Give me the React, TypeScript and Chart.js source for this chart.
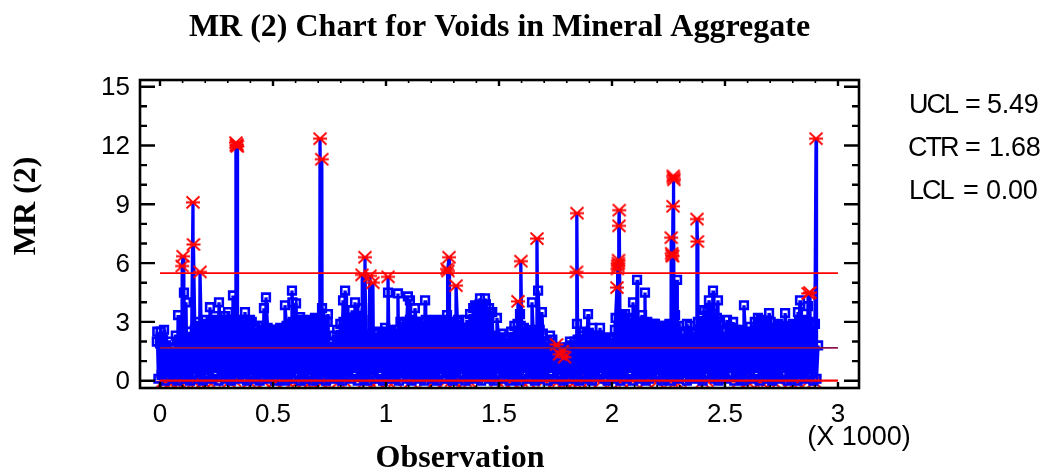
import React, { useEffect, useRef } from "react";
import { Chart, registerables } from "chart.js";

Chart.register(...registerables);

const chartTitle = "MR (2) Chart for Voids in Mineral Aggregate";
const xAxisTitle = "Observation";
const yAxisTitle = "MR (2)";
const xMultiplier = "(X 1000)";
const statNames = ["UCL", "CTR", "LCL"];
const statValues = ["5.49", "1.68", "0.00"];
const ucl = 5.49;
const ctr = 1.68;
const lcl = 0;

const yTickValues = [0, 3, 6, 9, 12, 15];
const yMinorValues = [1, 2, 4, 5, 7, 8, 10, 11, 13, 14];
const xTickValues = [0, 500, 1000, 1500, 2000, 2500, 3000];
const xTickLabels = ["0", "0.5", "1", "1.5", "2", "2.5", "3"];
const xMinorValues = [100, 200, 300, 400, 600, 700, 800, 900, 1100, 1200, 1300, 1400, 1600, 1700, 1800, 1900, 2100, 2200, 2300, 2400, 2600, 2700, 2800, 2900];

// Bulk of the moving-range series: upper and lower swing per block of 14 observations
const massHigh = [
  2.0, 1.9, 2.1, 1.8, 2.0, 1.7, 2.3, 2.1, 2.4, 2.0, 2.5, 2.2, 2.6, 3.0, 2.8, 3.1, 2.9, 3.0, 3.1, 2.8, 3.0, 3.1,
  3.0, 2.9, 3.1, 3.0, 2.8, 3.1, 3.0, 2.9, 3.0, 2.7, 2.8, 2.6, 2.5, 2.7, 2.6, 2.5, 2.6, 2.7, 2.6, 2.8, 2.9, 3.0,
  2.9, 3.0, 3.1, 2.9, 3.0, 3.1, 3.0, 3.1, 2.9, 3.1, 3.0, 2.0, 2.3, 2.6, 2.9, 3.0, 3.2, 3.1, 3.2, 3.0, 3.2, 3.1,
  2.2, 2.3, 2.2, 2.4, 2.5, 2.3, 2.4, 2.5, 2.6, 2.4, 2.6, 3.0, 2.9, 3.0, 3.1, 2.9, 3.0, 2.8, 3.0, 3.1, 2.9, 3.0,
  3.0, 2.9, 3.0, 3.1, 2.9, 3.0, 2.9, 3.0, 2.5, 2.6, 2.4, 3.4, 3.7, 3.8, 3.9, 3.8, 3.9, 3.7, 3.5, 2.3, 2.2, 2.4,
  2.1, 2.2, 2.5, 2.8, 2.9, 2.8, 2.7, 2.5, 2.6, 2.4, 2.5, 2.6, 2.4, 2.0, 1.9, 2.1, 1.7, 1.6, 1.7, 1.5, 1.7, 1.8,
  2.0, 2.1, 2.3, 2.5, 2.4, 2.1, 2.2, 2.0, 2.1, 2.2, 2.0, 2.1, 2.2, 3.2, 3.1, 3.3, 3.2, 3.1, 3.2, 2.9, 2.8, 3.0,
  2.9, 3.0, 2.8, 2.9, 2.7, 2.8, 2.8, 2.7, 2.9, 2.8, 2.7, 2.8, 2.4, 2.5, 2.3, 2.4, 2.5, 3.0, 3.3, 3.6, 3.5, 3.6,
  3.4, 3.2, 3.0, 2.5, 2.6, 2.5, 2.7, 2.6, 2.5, 2.6, 2.4, 2.5, 2.4, 3.0, 2.9, 3.1, 3.0, 2.9, 3.0, 2.7, 2.6, 2.8,
  2.7, 2.6, 2.8, 2.7, 2.8, 3.0, 3.1, 2.9, 3.0, 2.8, 2.9,
];
const massLow = [
  0.1, 0.3, 0.0, 0.2, 0.4, 0.1, 0.0, 0.2, 0.3, 0.1, 0.0, 0.4, 0.2, 0.1, 0.0, 0.3, 0.2, 0.1, 0.4, 0.0, 0.2, 0.1,
  0.3, 0.0, 0.1, 0.2, 0.4, 0.1, 0.0, 0.3, 0.2, 0.1, 0.0, 0.2, 0.4, 0.1, 0.3, 0.0, 0.2, 0.1, 0.0, 0.3, 0.1, 0.2,
  0.4, 0.0, 0.1, 0.2, 0.3, 0.0, 0.1, 0.4, 0.2, 0.0, 0.1, 0.3, 0.2, 0.1, 0.0, 0.2, 0.3, 0.1, 0.4, 0.0, 0.2, 0.1,
  0.0, 0.3, 0.2, 0.1, 0.4, 0.0, 0.1, 0.2, 0.3, 0.1, 0.0, 0.2, 0.4, 0.1, 0.0, 0.3, 0.2, 0.1, 0.0, 0.2, 0.3, 0.1,
  0.0, 0.4, 0.2, 0.1, 0.3, 0.0, 0.1, 0.2, 0.4, 0.0, 0.1, 0.3, 0.2, 0.1, 0.0, 0.2, 0.3, 0.1, 0.0, 0.4, 0.2, 0.1,
  0.3, 0.0, 0.2, 0.1, 0.0, 0.3, 0.4, 0.1, 0.2, 0.0, 0.1, 0.3, 0.2, 0.0, 0.4, 0.1, 0.2, 0.3, 0.0, 0.1, 0.2, 0.4,
  0.1, 0.0, 0.3, 0.2, 0.1, 0.0, 0.2, 0.3, 0.4, 0.1, 0.0, 0.2, 0.1, 0.3, 0.0, 0.2, 0.1, 0.4, 0.0, 0.3, 0.1, 0.2,
  0.0, 0.1, 0.4, 0.2, 0.3, 0.0, 0.1, 0.2, 0.0, 0.3, 0.1, 0.4, 0.2, 0.0, 0.1, 0.3, 0.2, 0.1, 0.0, 0.4, 0.2, 0.3,
  0.1, 0.0, 0.2, 0.1, 0.3, 0.4, 0.0, 0.2, 0.1, 0.0, 0.3, 0.2, 0.1, 0.4, 0.0, 0.2, 0.3, 0.1, 0.0, 0.2, 0.1, 0.3,
  0.4, 0.0, 0.1, 0.2, 0.0, 0.3, 0.1, 0.2, 0.4, 0.0, 0.1,
];

// Isolated in-control observations, marked with squares above the bulk
const peakObs = [
  -12, 3, 18, 80, 106, 115, 221, 243, 261, 288, 301, 323, 376, 398, 434, 460, 469, 509, 553, 584, 586, 602, 620, 686,
  717, 743, 783, 810, 819, 850, 863, 894, 996, 1009, 1053, 1097, 1106, 1128, 1173, 1217, 1270, 1319, 1350, 1358, 1394,
  1416, 1438, 1460, 1491, 1527, 1593, 1646, 1673, 1690, 1726, 1814, 1845, 1894, 1912, 1947, 1991, 2013, 2058, 2093,
  2111, 2133, 2146, 2190, 2226, 2279, 2288, 2332, 2345, 2403, 2429, 2447, 2469, 2509, 2536, 2584, 2611, 2646, 2695,
  2735, 2766, 2801, 2823, 2832, 2867, 2912,
];
const peakVals = [
  2.5, 2.5, 2.6, 3.35, 4.5, 4.0, 3.75, 3.3, 4.0, 3.3, 3.5, 4.35, 3.5, 3.1, 2.8, 3.7, 4.25, 2.6, 3.85, 4.6, 4.0, 3.95, 3.25, 3.2,
  3.7, 3.4, 2.1, 4.1, 4.6, 3.6, 4.0, 3.7, 2.7, 4.5, 4.45, 4.3, 4.1, 3.7, 4.1, 3.1, 3.35, 3.1, 2.6, 3.1, 3.85,
  4.2, 4.2, 3.5, 3.2, 2.2, 3.4, 4.0, 4.6, 3.5, 2.3, 2.0, 2.9, 3.4, 2.7, 2.7, 2.2, 2.6, 3.4, 4.0,
  5.15, 3.35, 4.5, 2.9, 2.6, 3.35, 5.15, 2.9, 2.8, 2.7, 4.1, 4.6, 4.1, 3.1, 3.0, 3.85, 2.75, 3.2, 3.45,
  2.9, 3.45, 2.9, 3.5, 4.1, 3.8, 1.8,
];

// Out-of-control observations, marked with red stars
const alarmObs = [
  98, 102, 146, 148, 177, 336, 338, 340, 342, 708, 716, 894, 907, 929, 942, 1009, 1270, 1274, 1279, 1310, 1584, 1597,
  1668, 1843, 1845, 2022, 2024, 2026, 2028, 2029, 2031, 2032, 2262, 2264, 2266, 2268, 2270, 2271, 2272, 2274, 2376, 2378,
  2868, 2876, 2903,
];
const alarmVals = [
  5.85, 6.35, 9.1, 6.95, 5.55, 12.15, 12.0, 12.05, 11.95, 12.35, 11.3, 5.4, 6.3, 5.35, 5.0, 5.3, 5.7, 5.6, 6.3, 4.85, 4.05, 6.1,
  7.25, 5.55, 8.55, 4.75, 5.7, 5.85, 6.0, 6.15, 7.9, 8.7, 7.3, 6.5, 6.4, 6.35, 8.9, 10.45, 10.35, 10.25, 8.25, 7.1,
  4.45, 4.5, 12.35,
];

// Small red stars that sit around the centre line in the sparse stretch near 1.8k
const midStarObs = [1755, 1768, 1780, 1790];
const midStarVals = [1.85, 1.35, 1.5, 1.2];

// Very small moving ranges, red stars that peek out under the lower limit
const zeroStarObs = [
  12, 30, 48, 62, 85, 120, 150, 168, 190, 215, 240, 305, 330, 395, 420, 460, 505, 560, 590, 615, 640, 668, 700, 712,
  725, 790, 815, 905, 925, 960, 1010, 1040, 1110, 1175, 1215, 1262, 1290, 1305, 1350, 1370, 1490, 1520, 1560, 1598,
  1630, 1700, 1748, 1765, 1790, 1810, 1835, 1860, 1900, 1950, 2010, 2040, 2090, 2150, 2200, 2262, 2282, 2300, 2400,
  2420, 2560, 2600, 2625, 2660, 2690, 2715, 2740, 2790, 2815, 2870, 2895,
];
const zeroStarVals = [
  -0.05, 0.0, -0.05, 0.0, -0.05, 0.0, -0.05, 0.0, -0.05, -0.05, 0.0, -0.05, 0.0, -0.05, 0.0, -0.05, -0.05, 0.0, -0.05, 0.0, -0.05, -0.05, 0.0, -0.05,
  0.0, -0.05, 0.0, -0.05, 0.0, -0.05, -0.05, 0.0, -0.05, 0.0, -0.05, -0.05, 0.0, -0.05, 0.0, -0.05, 0.0, -0.05, -0.05, 0.0,
  -0.05, 0.0, -0.05, 0.0, -0.05, 0.0, -0.05, -0.05, 0.0, -0.05, 0.0, -0.05, 0.0, -0.05, -0.05, 0.0, -0.05, 0.0, -0.05,
  0.0, -0.05, -0.05, 0.0, -0.05, 0.0, -0.05, 0.0, -0.05, -0.05, 0.0, -0.05,
];

const toPoints = (xs: number[], ys: number[]) => xs.map((x, i) => ({ x, y: ys[i] }));
const massPoints = massHigh.flatMap((v, i) => [
  { x: -14 + i * 14, y: v },
  { x: -7 + i * 14, y: massLow[i] },
]);
const peakPoints = toPoints(peakObs, peakVals);
const alarmPoints = toPoints(alarmObs, alarmVals);
const seriesPoints = [...massPoints, ...peakPoints, ...alarmPoints].sort((a, b) => a.x - b.x);

function makeStar(): HTMLCanvasElement {
  const c = document.createElement("canvas");
  c.width = 16;
  c.height = 15;
  const g = c.getContext("2d")!;
  g.strokeStyle = "#ff0000";
  g.lineWidth = 1.8;
  g.beginPath();
  g.moveTo(1, 7.5);
  g.lineTo(15, 7.5);
  g.moveTo(1.5, 1.5);
  g.lineTo(14.5, 13.5);
  g.moveTo(1.5, 13.5);
  g.lineTo(14.5, 1.5);
  g.stroke();
  return c;
}

const sans = '"Liberation Sans", Arial, sans-serif';
const serif = '"Liberation Serif", "Times New Roman", serif';

const decorations = {
  id: "decorations",
  afterDraw(chart: any) {
    const { ctx, chartArea: a, scales } = chart;
    const x = scales.x;
    const y = scales.y;
    ctx.save();
    ctx.strokeStyle = "#000";
    ctx.lineCap = "butt";
    ctx.lineWidth = 2.6;
    ctx.strokeRect(a.left, a.top, a.right - a.left, a.bottom - a.top);
    const hTick = (v: number, len: number) => {
      const p = y.getPixelForValue(v);
      ctx.beginPath();
      ctx.moveTo(a.left, p);
      ctx.lineTo(a.left + len, p);
      ctx.moveTo(a.right, p);
      ctx.lineTo(a.right - len, p);
      ctx.stroke();
    };
    const vTick = (v: number, len: number) => {
      const p = x.getPixelForValue(v);
      ctx.beginPath();
      ctx.moveTo(p, a.top);
      ctx.lineTo(p, a.top + len);
      ctx.moveTo(p, a.bottom);
      ctx.lineTo(p, a.bottom - len);
      ctx.stroke();
    };
    ctx.lineWidth = 2.4;
    yTickValues.forEach((v) => hTick(v, 15));
    yMinorValues.forEach((v) => hTick(v, 7));
    xTickValues.forEach((v) => vTick(v, 6));
    ctx.lineWidth = 1.6;
    xMinorValues.forEach((v) => vTick(v, 3));

    ctx.fillStyle = "#000";
    ctx.textBaseline = "alphabetic";
    ctx.textAlign = "center";
    ctx.font = `bold 32px ${serif}`;
    ctx.fillText(xAxisTitle, 460, 467);
    ctx.save();
    ctx.translate(35, 206);
    ctx.rotate(-Math.PI / 2);
    ctx.fillText(yAxisTitle, 0, 0);
    ctx.restore();
    ctx.font = `27px ${sans}`;
    ctx.fillText(xMultiplier, 859, 445);

    ctx.textAlign = "left";
    const baselines = [113, 156, 199];
    const nameX = [909, 908, 909];
    const eqX = [965, 965, 963];
    const valX = [987, 989, 986];
    statNames.forEach((name, i) => {
      ctx.font = `27px ${sans}`;
      (ctx as any).letterSpacing = "-2px";
      ctx.fillText(name, nameX[i], baselines[i]);
      (ctx as any).letterSpacing = "0px";
      ctx.fillText("=", eqX[i], baselines[i]);
      (ctx as any).letterSpacing = "-0.3px";
      ctx.fillText(statValues[i], valX[i], baselines[i]);
      (ctx as any).letterSpacing = "0px";
    });
    ctx.restore();
  },
};

export default function App() {
  const ref = useRef<HTMLCanvasElement | null>(null);
  useEffect(() => {
    const star = makeStar();
    const chart = new Chart(ref.current!, {
      type: "scatter",
      data: {
        datasets: [
          { label: "UCL", data: [{ x: 0, y: ucl }, { x: 3000, y: ucl }], showLine: true, borderColor: "#ff0000", borderWidth: 1.8, pointRadius: 0, order: 1 },
          { label: "CTR", data: [{ x: 0, y: ctr }, { x: 3000, y: ctr }], showLine: true, borderColor: "#8f1550", borderWidth: 1.8, pointRadius: 0, order: 1 },
          { label: "LCL", data: [{ x: 0, y: lcl }, { x: 3000, y: lcl }], showLine: true, borderColor: "#ff0000", borderWidth: 2.2, pointRadius: 0, order: 1 },
          { label: "Alarms", data: alarmPoints, pointStyle: star, pointRadius: 8, order: 2 },
          { label: "Mid stars", data: toPoints(midStarObs, midStarVals), pointStyle: star, pointRadius: 8, order: 2 },
          { label: "MR (2)", data: seriesPoints, showLine: true, borderColor: "#0000ff", borderWidth: 3.3, borderJoinStyle: "bevel", pointRadius: 0, order: 3 },
          { label: "Points", data: [...massPoints, ...peakPoints], pointStyle: "rect", pointRadius: 5.4, pointBorderWidth: 2.6, pointBorderColor: "#0000ff", pointBackgroundColor: "rgba(0,0,0,0)", order: 4 },
          { label: "Zero stars", data: toPoints(zeroStarObs, zeroStarVals), pointStyle: star, pointRadius: 8, order: 5 },
        ] as any,
      },
      options: {
        responsive: false,
        animation: false,
        layout: { padding: { left: 0, right: 187, top: 0, bottom: 0 } },
        plugins: {
          legend: { display: false },
          tooltip: { enabled: false },
          title: {
            display: true,
            text: chartTitle,
            fullSize: false,
            color: "#000",
            font: { family: serif, size: 32, weight: "bold", lineHeight: 1.2 },
            padding: { top: 9, bottom: 32.6 },
          },
        },
        scales: {
          x: {
            type: "linear",
            min: -88.5,
            max: 3093,
            grid: { display: false, drawTicks: false },
            border: { display: false },
            afterBuildTicks: (s: any) => {
              s.ticks = xTickValues.map((value) => ({ value }));
            },
            afterFit: (s: any) => {
              s.height = 473 - 388;
            },
            ticks: {
              autoSkip: false,
              maxRotation: 0,
              padding: 11,
              color: "#000",
              font: { family: sans, size: 26 },
              callback: (v: any) => xTickLabels[xTickValues.indexOf(Number(v))] ?? "",
            },
          },
          y: {
            type: "linear",
            min: -0.372,
            max: 15.342,
            grid: { display: false, drawTicks: false },
            border: { display: false },
            afterBuildTicks: (s: any) => {
              s.ticks = yTickValues.map((value) => ({ value }));
            },
            afterFit: (s: any) => {
              s.width = 140;
            },
            ticks: {
              autoSkip: false,
              padding: 10,
              labelOffset: 1.5,
              color: "#000",
              font: { family: sans, size: 26 },
              callback: (v: any) => String(v),
            },
          },
        },
      },
      plugins: [decorations],
    } as any);
    return () => chart.destroy();
  }, []);
  return (
    <div style={{ position: "absolute", left: 0, top: 0, width: 1046, height: 473, background: "#fff" }}>
      <canvas ref={ref} width={1046} height={473} style={{ display: "block" }} />
    </div>
  );
}
